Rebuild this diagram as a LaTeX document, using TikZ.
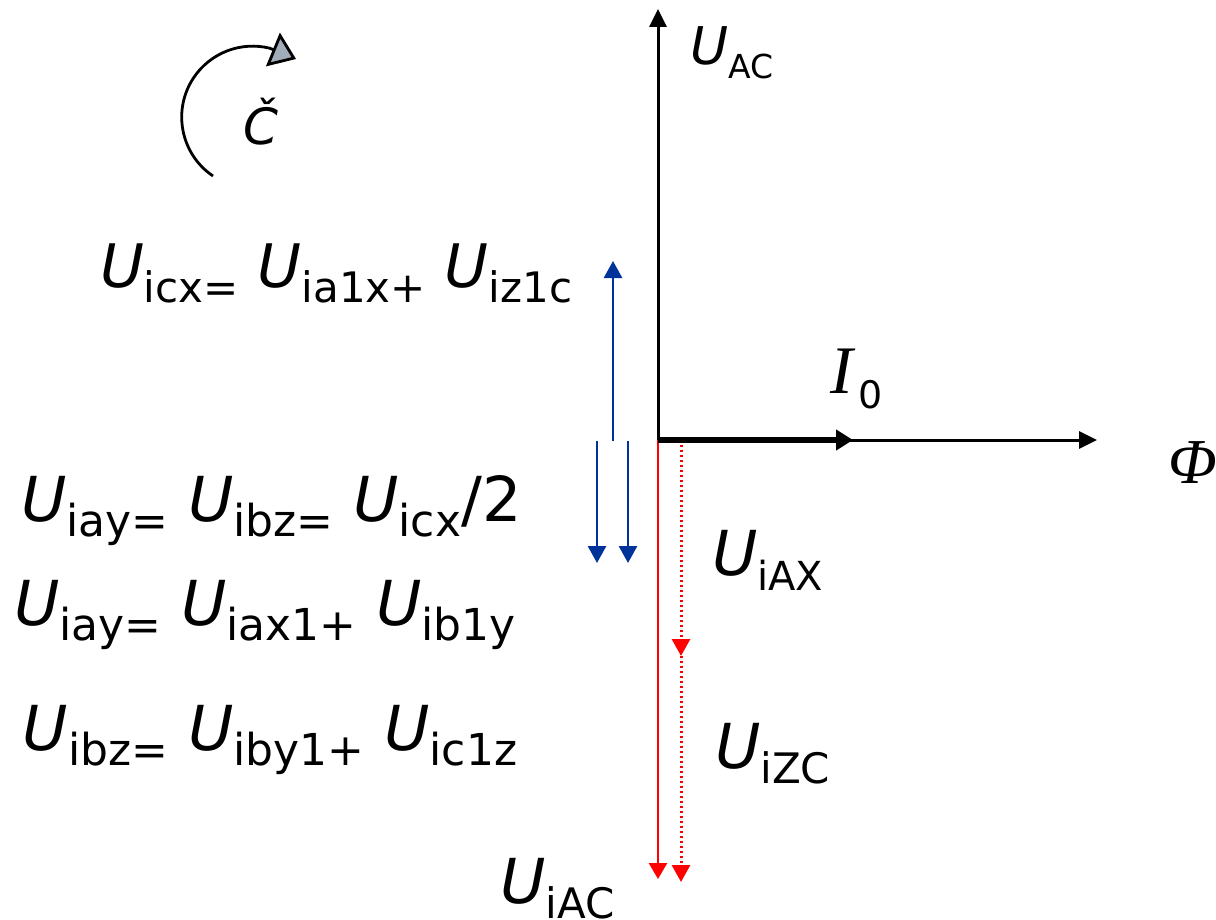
\documentclass[tikz,border=0pt]{standalone}
\usepackage{fontspec}
\setmainfont{DejaVu Sans}
\newfontfamily\serifF{Liberation Serif}
\usetikzlibrary{arrows.meta}
\definecolor{vblue}{RGB}{0,51,153}
\definecolor{tipgrey}{RGB}{160,172,186}
\newcommand{\Uv}[2]{{\itshape U}\raisebox{-7.5pt}{\fontsize{#1}{#1}\selectfont #2}}
\newcommand{\fs}[1]{\fontsize{#1}{#1}\selectfont}
\begin{document}
\begin{tikzpicture}[x=0.5pt,y=-0.5pt,
  lbl/.style={anchor=base west,inner sep=0pt,outer sep=0pt},
  axis/.style={black,line width=1.5pt,-{Triangle[length=9pt,width=8.5pt]}},
  thickarrow/.style={black,line width=3pt,-{Triangle[length=8.5pt,width=10pt]}},
  redarrow/.style={red,line width=1.3pt,-{Triangle[length=8pt,width=9pt]}},
  reddot/.style={red,line width=1.5pt,dash pattern=on 1.2pt off 1.3pt,-{Triangle[length=8.5pt,width=9pt]}},
  bluearrow/.style={vblue,line width=1.4pt,-{Triangle[length=8.5pt,width=9pt]}},
  rotarrow/.style={black,line width=1.4pt,-{Triangle[length=12.5pt,width=18pt,fill=tipgrey]}}]
\useasboundingbox (0,0) rectangle (1216,920);

% coordinates
\coordinate (O) at (658,440);
\coordinate (Ytop) at (658,9);
\coordinate (Xend) at (1097,440);
\coordinate (Iend) at (853,440);
\coordinate (Rend) at (658,879);
\coordinate (D0) at (681,440);
\coordinate (D1) at (681,656);
\coordinate (D2) at (681,882);
\coordinate (Bup0) at (613,441);
\coordinate (Bup1) at (613,261);
\coordinate (Bl0) at (597,441);
\coordinate (Bl1) at (597,563);
\coordinate (Br0) at (628,441);
\coordinate (Br1) at (628,563);
\coordinate (ArcS) at (213,176);
\coordinate (ArcTip) at (296,59);

% red vectors
\draw[redarrow] (O) -- (Rend);
\draw[reddot] (D0) -- (D1);
\draw[reddot] (D1) -- (D2);

% blue vectors
\draw[bluearrow] (Bup0) -- (Bup1);
\draw[bluearrow] (Bl0) -- (Bl1);
\draw[bluearrow] (Br0) -- (Br1);

% axes
\draw[axis] (O) -- (Ytop);
\draw[axis] (O) -- (Xend);
\draw[thickarrow] (O) -- (Iend);

% rotation arrow
\draw[rotarrow] (ArcS) arc[start angle=124,end angle=284,radius=71] -- (ArcTip);
\node[lbl] (C) at (243,145) {\fs{25}\itshape Č};

% labels
\node[lbl] (UAC) at (690,65) {\fs{26}{\itshape U}\raisebox{-7pt}{\fs{16.5}AC}};
\node[lbl] (I0) at (830,393) {{\serifF\itshape\fs{34}I}\kern3pt\raisebox{-7.5pt}{\fs{19}0}};
\node[lbl] (Phi) at (1168,483) {\serifF\itshape\fs{32}Φ};
\node[lbl] (UiAX) at (712,575) {\fs{31}\Uv{20}{iAX}};
\node[lbl] (UiZC) at (715,768) {\fs{31}\Uv{21}{iZC}};
\node[lbl] (UiAC) at (500,903) {\fs{31}\Uv{21}{iAC}};

\node[lbl] (Eq1) at (100,287) {\fs{30}\Uv{21}{icx=} \Uv{21}{ia1x+} \Uv{21}{iz1c}};
\node[lbl] (Eq2) at (21,521) {\fs{31}\Uv{22}{iay=} \Uv{22}{ibz=} \Uv{22}{icx}/2};
\node[lbl] (Eq3) at (14,625) {\fs{31}\Uv{22}{iay=} \Uv{22}{iax1+} \Uv{22}{ib1y}};
\node[lbl] (Eq4) at (23,750) {\fs{31}\Uv{22}{ibz=} \Uv{22}{iby1+} \Uv{22}{ic1z}};
\end{tikzpicture}
\end{document}
